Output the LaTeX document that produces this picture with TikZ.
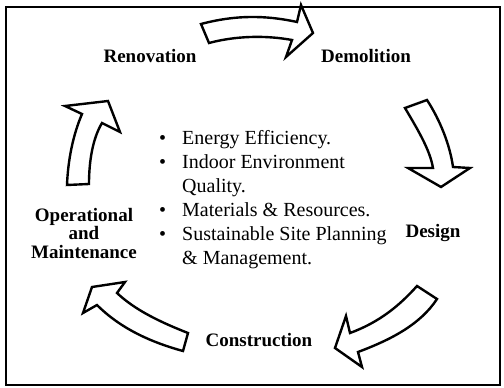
\documentclass[tikz,border=0pt]{standalone}
\usepackage{fontspec}
\setmainfont{Liberation Serif}
\usepackage{tikz}
\usetikzlibrary{positioning}

\begin{document}
\begin{tikzpicture}[x=1pt, y=-1pt, line join=miter]
  \tikzstyle{stage}=[font=\fontsize{19}{18.5}\selectfont\bfseries, inner sep=0pt, align=center]
  \tikzstyle{blockarrow}=[draw=black, fill=white, line width=2.4pt]
  \useasboundingbox (0,0) rectangle (504,388);
  \draw[line width=1.3pt] (6,7) rectangle (500,385);

  \node[stage, anchor=base](renov) at (150,62){Renovation};
  \node[stage, anchor=base](demol) at (366,62){Demolition};
  \node[stage, anchor=base](design) at (433,237){Design};
  \node[stage, anchor=base](constr) at (259,346){Construction};
  \node[stage](operat) at (84,233){Operational\\and\\Maintenance};

  \node[anchor=base west, inner sep=0pt, font=\fontsize{20}{24}\selectfont](goals) at (159,144){%
    \begin{tabular}[t]{@{}l@{\hspace{16pt}}l@{}}
      \textbullet & Energy Efficiency.\\
      \textbullet & Indoor Environment\\
                  & Quality.\\
      \textbullet & Materials \& Resources.\\
      \textbullet & Sustainable Site Planning\\
                  & \& Management.
    \end{tabular}};

  % renovation -> demolition
  \draw[blockarrow] (201,24) .. controls (235,15) and (265,15) .. (297,22)
    -- (301,5) -- (313,33) -- (286,57) -- (292,40)
    .. controls (265,35) and (235,36) .. (209,43) -- cycle;
  % demolition -> design
  \draw[blockarrow] (405,108) .. controls (418,130) and (430,150) .. (433,168)
    -- (408,168) -- (441,187) -- (470,168) -- (453,167)
    .. controls (450,145) and (440,120) .. (427,100) -- cycle;
  % design -> construction
  \draw[blockarrow] (417,286) -- (437,299) .. controls (420,325) and (390,340) .. (358,352)
    -- (362,367) -- (335,348) -- (346,316) -- (350,333)
    .. controls (380,322) and (400,305) .. (417,286) -- cycle;
  % construction -> operational
  \draw[blockarrow] (188,333) -- (183,351) .. controls (150,342) and (120,328) .. (97,305)
    -- (83,313) -- (92,287) -- (125,282) -- (117,293)
    .. controls (135,310) and (160,322) .. (188,333) -- cycle;
  % operational -> renovation
  \draw[blockarrow] (67,185) -- (89,184) .. controls (89,160) and (93,138) .. (102,123)
    -- (120,132) -- (108,101) -- (65,106) -- (82,114)
    .. controls (73,135) and (68,160) .. (67,185) -- cycle;
\end{tikzpicture}
\end{document}
